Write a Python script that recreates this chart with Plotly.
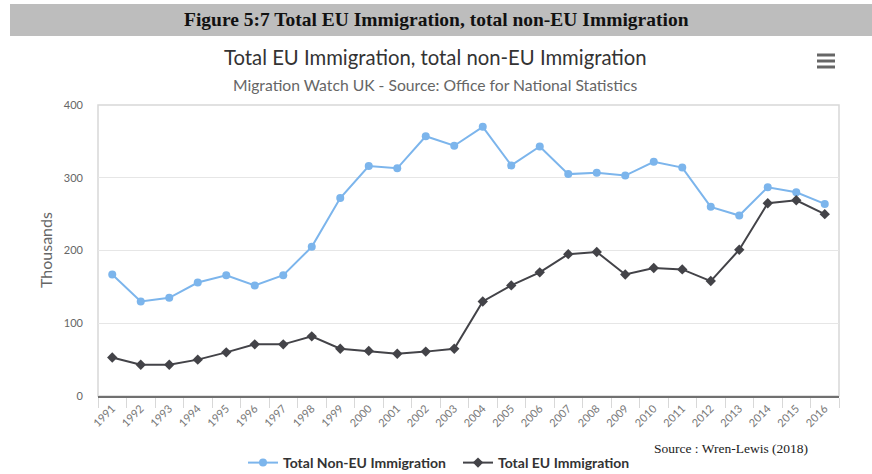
import plotly.graph_objects as go

# Data (thousands)
years = [str(y) for y in range(1991, 2017)]
non_eu = [167, 130, 135, 156, 166, 152, 166, 205, 272, 316, 313, 357, 344, 370,
          317, 343, 305, 307, 303, 322, 314, 260, 248, 287, 280, 264]
eu = [53, 43, 43, 50, 60, 71, 71, 82, 65, 62, 58, 61, 65, 130,
      152, 170, 195, 198, 167, 176, 174, 158, 201, 265, 269, 250]
y_ticks = [0, 100, 200, 300, 400]

W, H = 872, 474
ML, MR, MT, MB = 98, 33, 105, 78
PW, PH = W - ML - MR, H - MT - MB


def px(x):
    return (x - ML) / PW


def py(y):
    return (H - MB - y) / PH


fig = go.Figure()
fig.add_trace(go.Scatter(
    x=years, y=non_eu, name="Total Non-EU Immigration", mode="lines+markers",
    line=dict(color="#7cb5ec", width=2),
    marker=dict(symbol="circle", size=8, color="#7cb5ec"),
))
fig.add_trace(go.Scatter(
    x=years, y=eu, name="Total EU Immigration", mode="lines+markers",
    line=dict(color="#434348", width=2),
    marker=dict(symbol="diamond", size=8, color="#434348"),
))

shapes = [
    # header band
    dict(type="rect", xref="paper", yref="paper", x0=px(10), x1=px(872),
         y0=py(36), y1=py(4), fillcolor="#bdbdbd", line=dict(width=0), layer="below"),
    # plot frame
    dict(type="rect", xref="paper", yref="paper", x0=0, x1=1, y0=0, y1=1,
         line=dict(color="#d8d8d8", width=1.5), layer="below"),
]
# menu icon
for yy in (55, 61, 67):
    shapes.append(dict(type="line", xref="paper", yref="paper",
                       x0=px(817), x1=px(835), y0=py(yy), y1=py(yy),
                       line=dict(color="#666666", width=3)))

annotations = [
    dict(text="<b>Figure 5:7 Total EU Immigration, total non-EU Immigration</b>",
         xref="paper", yref="paper", x=px(436), y=py(20), showarrow=False,
         font=dict(family="Liberation Serif", size=19.5, color="#111111"),
         xanchor="center", yanchor="middle"),
    dict(text="Total EU Immigration, total non-EU Immigration",
         xref="paper", yref="paper", x=px(435), y=py(57), showarrow=False,
         font=dict(family="Lato", size=20.3, color="#333333"),
         xanchor="center", yanchor="middle"),
    dict(text="Migration Watch UK - Source: Office for National Statistics",
         xref="paper", yref="paper", x=px(435), y=py(85), showarrow=False,
         font=dict(family="Lato", size=15.7, color="#666666"),
         xanchor="center", yanchor="middle"),
    dict(text="Thousands", xref="paper", yref="paper", x=px(45), y=py(250),
         showarrow=False, textangle=-90,
         font=dict(family="Lato", size=16, color="#666666"),
         xanchor="center", yanchor="middle"),
    dict(text="Source : Wren-Lewis (2018)", xref="paper", yref="paper",
         x=px(810), y=py(448), showarrow=False,
         font=dict(family="Liberation Serif", size=13.5, color="#222222"),
         xanchor="right", yanchor="middle"),
]

fig.update_layout(
    width=W, height=H,
    margin=dict(l=ML, r=MR, t=MT, b=MB, autoexpand=False),
    paper_bgcolor="white", plot_bgcolor="white",
    font=dict(family="Lato", color="#666666"),
    showlegend=True,
    legend=dict(orientation="h", x=px(243), xanchor="left",
                yref="container", y=(H - 463) / H, yanchor="middle",
                font=dict(family="Lato", size=14, color="#333333", weight="bold"),
                itemwidth=30, tracegroupgap=0, entrywidth=170),
    shapes=shapes,
    annotations=annotations,
    xaxis=dict(type="category", range=[-0.5, len(years) - 0.5], automargin=False,
               tickangle=-45, tickson="boundaries", ticks="outside", ticklen=10,
               tickcolor="#d8d8d8", showgrid=False, showline=True,
               linecolor="#707070", linewidth=2,
               tickfont=dict(family="Lato", size=11, color="#777777")),
    yaxis=dict(range=[0, 400], tickvals=y_ticks, showgrid=True, gridcolor="#e6e6e6",
               automargin=False, zeroline=False, showline=False, ticks="",
               ticklabelstandoff=14,
               tickfont=dict(family="Lato", size=11, color="#666666")),
)

fig.write_html("out.html")
